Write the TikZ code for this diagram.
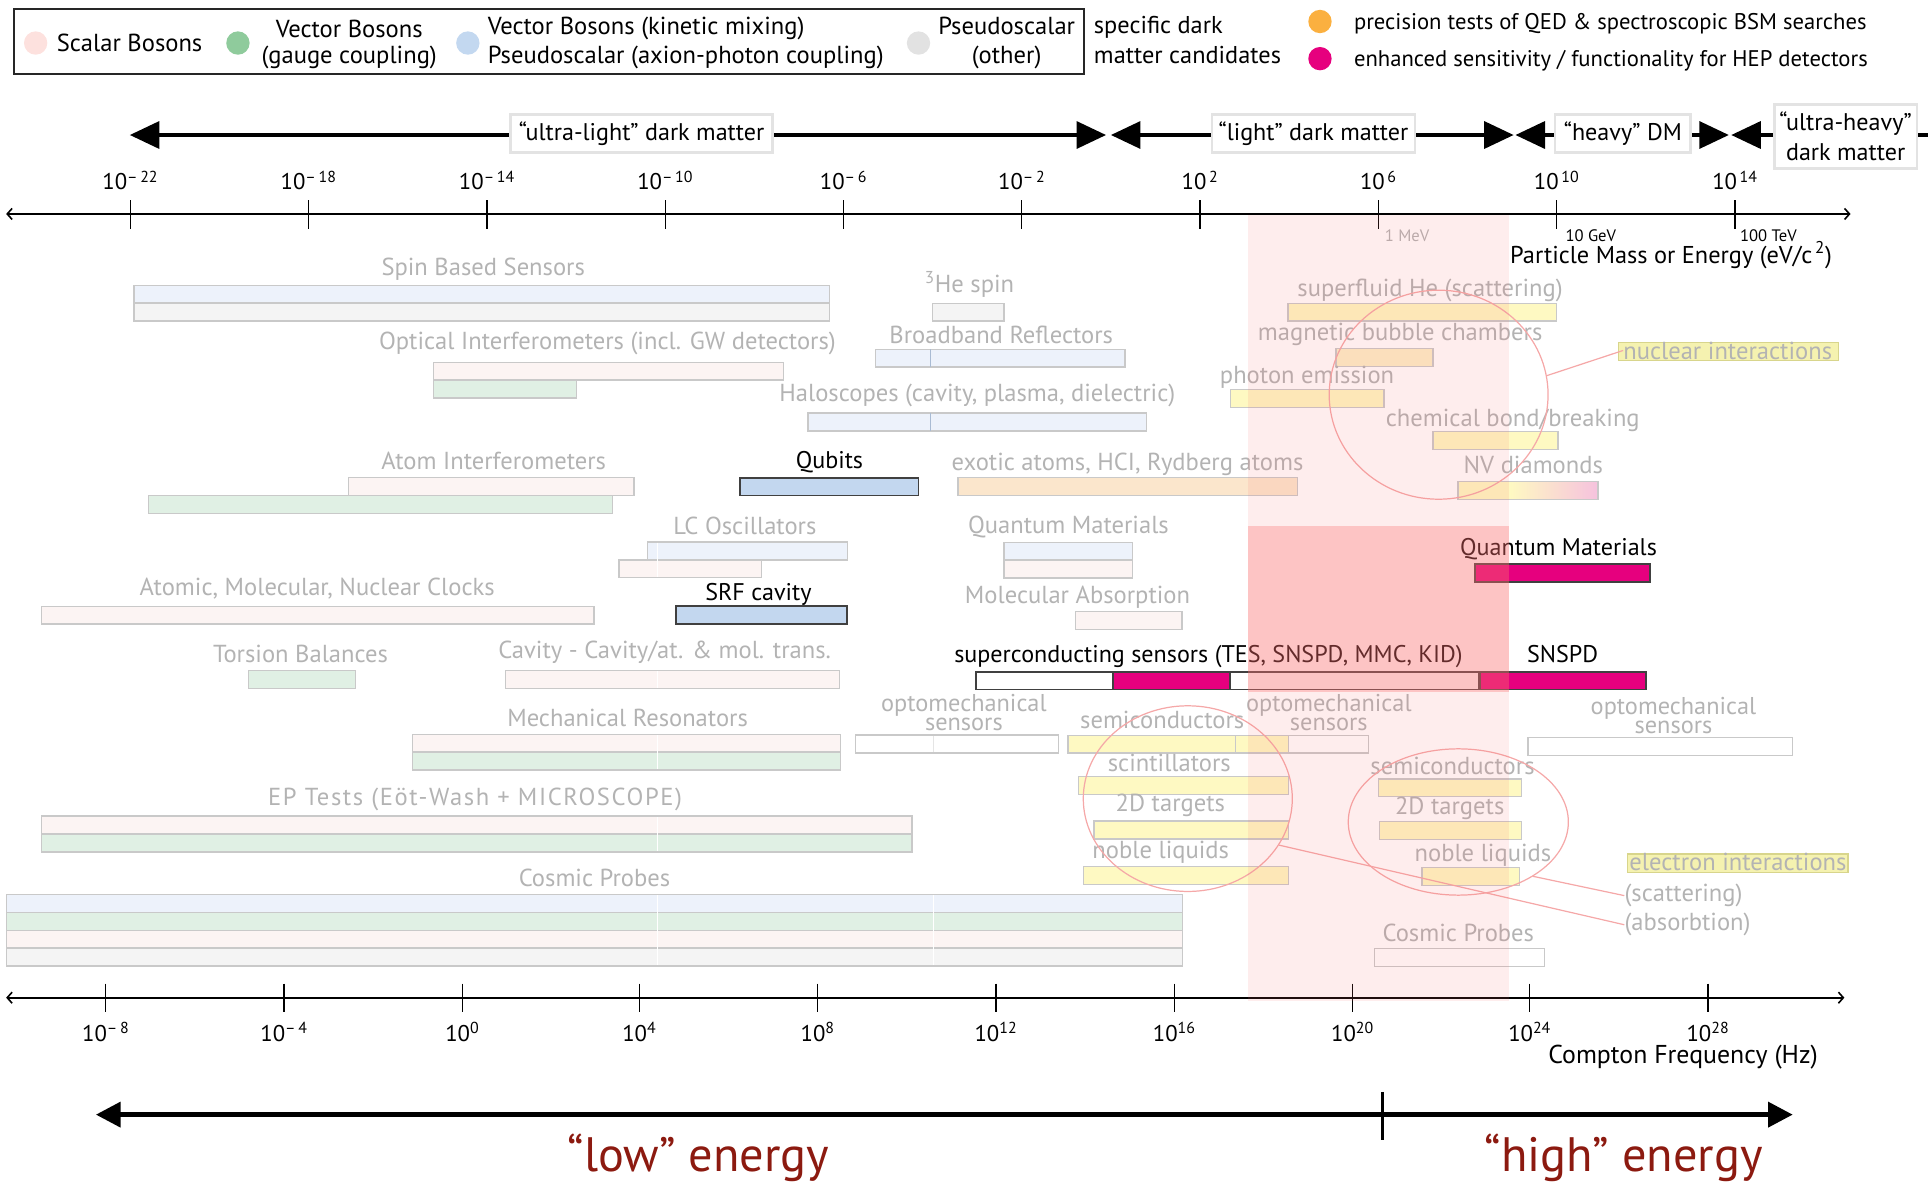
\documentclass[tikz,border=0pt]{standalone}
\usepackage{fontspec}
\setmainfont{PT Sans}
\usetikzlibrary{arrows.meta,shapes.geometric}
\definecolor{lblgrey}{HTML}{B3B3B3}
\definecolor{barline}{HTML}{C9C9C9}
\definecolor{pblue}{HTML}{EDF2FB}
\definecolor{pgrey}{HTML}{F4F4F4}
\definecolor{ppink}{HTML}{FCF4F3}
\definecolor{pgreen}{HTML}{E0F0E4}
\definecolor{pyellow}{HTML}{FEF9C2}
\definecolor{porange}{HTML}{FBE6CC}
\definecolor{pamber}{HTML}{FCF0C8}
\definecolor{qblue}{HTML}{C3D7EF}
\definecolor{mag}{HTML}{E6007E}
\definecolor{darkred}{HTML}{8C1A10}
\definecolor{hlfill}{HTML}{F5F2B0}
\definecolor{hlline}{HTML}{D8D58C}
\definecolor{ellred}{HTML}{F5A8A8}
\definecolor{bandc}{HTML}{F96C6C}
\definecolor{boxgrey}{HTML}{E3E3E3}
\definecolor{dotpink}{HTML}{FDE1DE}
\definecolor{dotgreen}{HTML}{8FCB9C}
\definecolor{dotblue}{HTML}{C3D8F0}
\definecolor{dotgrey}{HTML}{E2E2E2}
\definecolor{dotorange}{HTML}{FBB040}
\definecolor{seamblue}{HTML}{A9BBD3}
\definecolor{nvpink}{HTML}{F6C2DE}
\newcommand{\mybar}[5][pbar]{\draw[#1,fill=#2] (#3,#5) rectangle (#4,#5+14.5);}
\tikzset{
  pbar/.style={draw=barline, line width=1.1},
  sbar/.style={draw=black!75, line width=1.4},
  lbl/.style={text=lblgrey, font=\fontsize{20}{21}\selectfont, inner sep=0, anchor=base},
  blbl/.style={lbl, text=black, font=\fontsize{19.6}{21}\selectfont},
  optolbl/.style={text=lblgrey, font=\fontsize{19.8}{13.7}\selectfont, inner sep=0, align=center, anchor=base},
  leg/.style={font=\fontsize{20}{22}\selectfont, inner sep=0},
  dmbox/.style={draw=boxgrey, line width=2, fill=white, inner sep=0, font=\fontsize{19.6}{24.5}\selectfont, align=center},
  bigtri/.tip={Triangle[length=24pt,width=22pt]},
  lowtri/.tip={Triangle[length=20pt,width=20pt]},
  barb/.tip={Straight Barb[length=4pt,width=9pt]},
  dmline/.style={line width=2.7},
  axisl/.style={line width=1.3},
  tickm/.style={line width=1.1},
  ticklbl/.style={font=\fontsize{18.5}{20}\selectfont, inner sep=0, anchor=base},
  conn/.style={draw=ellred, line width=1},
  ellnode/.style={ellipse, draw=ellred, line width=1, inner sep=0},
}
\begin{document}
\begin{tikzpicture}[x=1pt,y=-1pt]
\useasboundingbox (0,0) rectangle (1568,961);

% ---------------- legend ----------------
\draw[line width=1.3, black!85] (11.5,7.5) rectangle (881.5,60);
\fill[dotpink] (29,35) circle (9.5);
\fill[dotgreen] (193.5,35) circle (9.5);
\fill[dotblue] (380.5,35) circle (9.5);
\fill[dotgrey] (747,35) circle (9.5);
\fill[dotorange] (1073.5,17.5) circle (9.5);
\fill[mag] (1073.5,47.7) circle (9.5);
\node[leg, anchor=base west] (lgScalar) at (46,42) {Scalar Bosons};
\node[leg, anchor=base] (lgVecA) at (284,30.5) {Vector Bosons};
\node[leg, anchor=base] (lgVecB) at (284,51.5) {(gauge coupling)};
\node[leg, anchor=base west] (lgKinA) at (396.5,28) {Vector Bosons (kinetic mixing)};
\node[leg, anchor=base west] (lgKinB) at (396.5,51.5) {Pseudoscalar (axion-photon coupling)};
\node[leg, anchor=base] (lgPsA) at (818.7,28) {Pseudoscalar};
\node[leg, anchor=base] (lgPsB) at (818.7,51.5) {(other)};
\node[leg, anchor=base west, font=\fontsize{19.8}{22}\selectfont] (lgSpA) at (889.5,27) {specific dark};
\node[leg, anchor=base west, font=\fontsize{19.8}{22}\selectfont] (lgSpB) at (889.5,51.5) {matter candidates};
\node[leg, anchor=base west, font=\fontsize{18.4}{20}\selectfont] (lgQED) at (1101,24) {precision tests of QED \& spectroscopic BSM searches};
\node[leg, anchor=base west, font=\fontsize{18.4}{20}\selectfont] (lgHEP) at (1101,53.7) {enhanced sensitivity / functionality for HEP detectors};

% ---------------- dark matter ranges ----------------
\coordinate (ulL) at (105.6,109.8); \coordinate (ulR) at (899.5,109.8);
\coordinate (liL) at (903.5,109.8); \coordinate (liR) at (1231,109.8);
\coordinate (hvL) at (1232.5,109.8); \coordinate (hvR) at (1406,109.8);
\coordinate (uhL) at (1408,109.8); \coordinate (uhR) at (1568,109.8);
\draw[dmline, bigtri-bigtri] (ulL) -- (ulR);
\draw[dmline, bigtri-bigtri] (liL) -- (liR);
\draw[dmline, bigtri-bigtri] (hvL) -- (hvR);
\draw[dmline, bigtri-] (uhL) -- (uhR);
\node[dmbox, minimum width=213, minimum height=31] (ulBox) at (521.8,108.5) {“ultra-light” dark matter};
\node[dmbox, minimum width=165, minimum height=31] (liBox) at (1068.2,108.5) {“light” dark matter};
\node[dmbox, minimum width=110, minimum height=31] (hvBox) at (1319.8,108.5) {“heavy” DM};
\node[dmbox, minimum width=116, minimum height=52] (uhBox) at (1501,111) {“ultra-heavy”\\dark matter};

% ---------------- top axis ----------------
\coordinate (taL) at (5,174); \coordinate (taR) at (1505,174);
\draw[axisl, barb-barb] (taL) -- (taR);
\foreach \x/\e [count=\i] in {106/{–\,22},251/{–\,18},396/{–\,14},541/{–\,10},686/{–\,6},831/{–\,2},976/{\,2},1121/{\,6},1266/{\,10},1411/{\,14}}{
  \draw[tickm] (\x,163) -- (\x,186);
  \node[ticklbl] (tt\i) at (\x,154.5) {10\textsuperscript{\e}};
}
\node[inner sep=0, anchor=base west, text=lblgrey, font=\fontsize{13.5}{14}\selectfont] (mev) at (1126,196) {1 MeV};
\node[inner sep=0, anchor=base west, font=\fontsize{13.5}{14}\selectfont] (gev) at (1273,196) {10 GeV};
\node[inner sep=0, anchor=base west, font=\fontsize{13.5}{14}\selectfont] (tev) at (1415,196) {100 TeV};
\node[inner sep=0, anchor=base west, font=\fontsize{19.8}{20}\selectfont] (pm) at (1228,214) {Particle Mass or Energy (eV/c\textsuperscript{\,2})};

% ---------------- bars ----------------
% Spin Based Sensors
\mybar{pblue}{109}{674.6}{232}
\mybar{pgrey}{109}{674.6}{246.5}
\node[lbl] (spin) at (393,224) {Spin Based Sensors};
% 3He spin
\mybar{pgrey}{758.4}{816.5}{246.7}
\node[lbl] (he3) at (788.5,238) {\textsuperscript{3}He spin};
% Optical interferometers
\mybar{ppink}{352.5}{637.3}{294.6}
\mybar{pgreen}{352.5}{468.8}{309.1}
\node[lbl] (opt) at (494,284.6) {Optical Interferometers (incl. GW detectors)};
% Broadband reflectors
\mybar{pblue}{712}{915}{284}
\draw[seamblue, line width=0.8] (757,284) -- (757,298.5);
\node[lbl] (bbr) at (814.3,279.2) {Broadband Reflectors};
% Haloscopes
\mybar{pblue}{657}{932.3}{336}
\draw[seamblue, line width=0.8] (757,336) -- (757,350.5);
\node[lbl] (halo) at (794.8,326.7) {Haloscopes (cavity, plasma, dielectric)};
% Atom interferometers
\mybar{ppink}{283.4}{515.5}{388.5}
\mybar{pgreen}{121}{498}{403}
\node[lbl] (atomi) at (401.5,382) {Atom Interferometers};
% Qubits
\mybar[sbar]{qblue}{602}{747}{388.5}
\node[blbl] (qubits) at (674.6,380.9) {Qubits};
% exotic atoms
\mybar{porange}{779}{1055.3}{388.5}
\node[lbl] (exotic) at (917,382.3) {exotic atoms, HCI, Rydberg atoms};
% LC oscillators
\mybar{pblue}{526.6}{689}{440.8}
\mybar{ppink}{503.3}{619.5}{455.3}
\draw[white, line width=1] (535,441.4) -- (535,469.2);
\node[lbl] (lc) at (605.8,435) {LC Oscillators};
% Quantum materials (grey)
\mybar{pblue}{816.6}{921}{441}
\mybar{ppink}{816.6}{921}{455.5}
\node[lbl] (qmg) at (868.9,433.8) {Quantum Materials};
% Quantum materials (black)
\mybar[sbar]{mag}{1199.6}{1341.6}{458.7}
\node[blbl] (qmb) at (1267.5,451.4) {Quantum Materials};
% Clocks
\mybar{ppink}{33.6}{483.2}{493}
\node[lbl] (clocks) at (258,484) {Atomic, Molecular, Nuclear Clocks};
% SRF cavity
\mybar[sbar]{qblue}{550}{689}{493}
\node[blbl] (srf) at (616.8,488) {SRF cavity};
% Molecular absorption
\mybar{ppink}{874.7}{961.3}{497.2}
\node[lbl] (molabs) at (876.3,491.2) {Molecular Absorption};
% Torsion balances
\mybar{pgreen}{202}{289}{545.5}
\node[lbl] (torsion) at (244.4,539) {Torsion Balances};
% Cavity - Cavity
\mybar{ppink}{411}{683}{545.5}
\draw[white, line width=1] (535,546.1) -- (535,559.4);
\node[lbl] (cavity) at (540.5,535.4) {Cavity - Cavity/at. \& mol. trans.};
% superconducting sensors
\mybar[sbar]{white}{794}{1202.4}{546.3}
\mybar[sbar]{mag}{905}{1000.5}{546.3}
\node[blbl] (supc) at (982.8,539) {superconducting sensors (TES, SNSPD, MMC, KID)};
\mybar[sbar]{mag}{1203.5}{1338.7}{546.3}
\node[blbl] (snspd) at (1270.9,539) {SNSPD};
% optomechanical sensors (left)
\mybar{white}{695.6}{861}{597.8}
\draw[white!90!black, line width=0.6] (759,598.4) -- (759,611.7);
\node[optolbl] (optoL) at (783.9,593.7) {optomechanical\\sensors};
% Mechanical resonators
\mybar{ppink}{335.6}{683.6}{597.2}
\mybar{pgreen}{335.6}{683.6}{611.7}
\draw[white, line width=1] (535,597.8) -- (535,625.6);
\node[lbl] (mech) at (510.4,591) {Mechanical Resonators};
% semiconductors (left) and optomechanical (middle)
\mybar{pyellow}{868.6}{1048}{598}
\draw[pbar] (1005,598) rectangle (1113,612.5);
\node[lbl] (semiL) at (945.2,592.4) {semiconductors};
\node[optolbl] (optoM) at (1080.7,593.7) {optomechanical\\sensors};
% optomechanical (right)
\mybar{white}{1242.7}{1458}{599.7}
\node[optolbl] (optoR) at (1361,596.4) {optomechanical\\sensors};
% scintillators etc (left cluster)
\mybar{pyellow}{877.3}{1048}{631.6}
\node[lbl] (scint) at (951,627.6) {scintillators};
\mybar{pyellow}{889.8}{1048}{667.7}
\node[lbl] (tdL) at (951.8,660) {2D targets};
\mybar{pyellow}{881.3}{1048}{704.8}
\node[lbl] (nobL) at (944,698) {noble liquids};
% right cluster
\mybar{pyellow}{1121}{1237.6}{633.5}
\node[lbl] (semiR) at (1181.3,629.8) {semiconductors};
\mybar{pyellow}{1122}{1237.6}{668}
\node[lbl] (tdR) at (1179,662.8) {2D targets};
\mybar{pyellow}{1156.5}{1235.8}{705.7}
\node[lbl] (nobR) at (1206,700.8) {noble liquids};
% EP tests
\mybar{ppink}{33.7}{741.7}{663.7}
\mybar{pgreen}{33.7}{741.7}{678.3}
\draw[white, line width=1] (535,664.3) -- (535,692.2);
\node[lbl, font=\fontsize{20}{21}\selectfont\addfontfeature{LetterSpace=6.5}] (ep) at (386.4,654.7) {EP Tests (Eöt-Wash + MICROSCOPE)};
% Cosmic probes (left)
\mybar{pblue}{5.2}{961.7}{727.4}
\mybar{pgreen}{5.2}{961.7}{742}
\mybar{ppink}{5.2}{961.7}{756.6}
\mybar{pgrey}{5.2}{961.7}{771.2}
\draw[white, line width=1] (535,728) -- (535,785.1);
\draw[white, line width=1] (759,728) -- (759,785.1);
\node[lbl] (cpL) at (483.5,721) {Cosmic Probes};
% Cosmic probes (right)
\mybar{white}{1118}{1256}{771.3}
\node[lbl] (cpR) at (1186,765.8) {Cosmic Probes};
% upper right cluster
\mybar{pyellow}{1047.5}{1266}{246.7}
\node[lbl] (sfhe) at (1163,241.3) {superfluid He (scattering)};
\mybar{pamber}{1086.5}{1165.5}{283.6}
\node[lbl] (mbc) at (1138.7,277.3) {magnetic bubble chambers};
\mybar{pyellow}{1000.5}{1125.6}{316.7}
\node[lbl] (phem) at (1063,311.8) {photon emission};
\mybar{pyellow}{1165.5}{1267}{351}
\node[lbl] (cbb) at (1230.3,346.5) {chemical bond/breaking};
\fill[pyellow] (1185.6,391.5) rectangle (1228,406);
\shade[left color=pyellow, right color=nvpink] (1228,391.5) rectangle (1299.6,406);
\draw[pbar] (1185.6,391.5) rectangle (1299.6,406);
\node[lbl] (nv) at (1247,385) {NV diamonds};

% highlighted labels
\draw[fill=hlfill, draw=hlline, line width=1] (1316,278.4) rectangle (1495,293.3);
\node[lbl, anchor=base west] (nuc) at (1320,292) {nuclear interactions};
\draw[fill=hlfill, draw=hlline, line width=1] (1323.3,694.6) rectangle (1503,709.5);
\node[lbl, anchor=base west] (elec) at (1325,708) {electron interactions};
\node[lbl, anchor=base west] (scat) at (1321,733.3) {(scattering)};
\node[lbl, anchor=base west] (absb) at (1321,757) {(absorbtion)};

% ellipses and connectors
\node[ellnode, minimum width=178, minimum height=170] (ellU) at (1170,321) {};
\node[ellnode, minimum width=170, minimum height=151] (ellL) at (966,649.5) {};
\node[ellnode, minimum width=179, minimum height=119] (ellR) at (1186,668.5) {};
\draw[conn] (ellU.10) -- (nuc.west);
\draw[conn] (ellR.-36) -- (scat.west);
\draw[conn] (ellL.-27.5) -- (absb.west);

% ---------------- bottom axis ----------------
\coordinate (baL) at (5,811.4); \coordinate (baR) at (1500,811.4);
\draw[axisl, barb-barb] (baL) -- (baR);
\foreach \x/\e [count=\i] in {86/{–\,8},231/{–\,4},376/0,520/4,665/8,810/12,955/16,1100/20,1244/24,1389/28}{
  \draw[tickm] (\x,800) -- (\x,823);
  \node[ticklbl] (bt\i) at (\x,847) {10\textsuperscript{\e}};
}
\node[inner sep=0, anchor=base west, font=\fontsize{21}{22}\selectfont] (cf) at (1259,864.8) {Compton Frequency (Hz)};

% ---------------- pink band ----------------
\fill[bandc, fill opacity=0.12] (1015,175) rectangle (1227,428);
\fill[bandc, fill opacity=0.40] (1015,428) rectangle (1227,562.5);
\fill[bandc, fill opacity=0.12] (1015,562.5) rectangle (1227,814);

% ---------------- low / high energy ----------------
\coordinate (leL) at (78,906.5); \coordinate (leR) at (1458,906.5);
\draw[line width=3.8, lowtri-lowtri] (leL) -- (leR);
\draw[line width=2.6] (1124.4,888) -- (1124.4,927);
\node[inner sep=0, anchor=base, text=darkred, font=\fontsize{39.3}{40}\selectfont] (low) at (568,953) {“low” energy};
\node[inner sep=0, anchor=base, text=darkred, font=\fontsize{39.3}{40}\selectfont] (high) at (1320.5,953) {“high” energy};
\end{tikzpicture}
\end{document}
